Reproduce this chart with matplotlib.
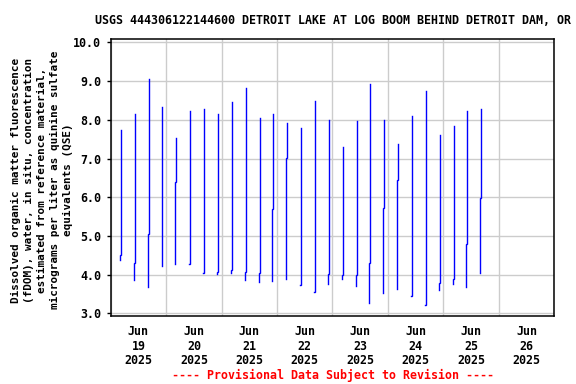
import matplotlib
matplotlib.use("Agg")
import matplotlib.pyplot as plt
import matplotlib.dates as mdates
import matplotlib.ticker as mticker
import numpy as np
import pandas as pd

# ---- data ----
profile_times = [
    "2025-06-19 04:00", "2025-06-19 10:00", "2025-06-19 16:00", "2025-06-19 22:00",
    "2025-06-20 04:00", "2025-06-20 10:00", "2025-06-20 16:00", "2025-06-20 22:00",
    "2025-06-21 04:00", "2025-06-21 10:00", "2025-06-21 16:00", "2025-06-21 22:00",
    "2025-06-22 04:00", "2025-06-22 10:00", "2025-06-22 16:00", "2025-06-22 22:00",
    "2025-06-23 04:00", "2025-06-23 10:00", "2025-06-23 16:00", "2025-06-23 22:00",
    "2025-06-24 04:00", "2025-06-24 10:00", "2025-06-24 16:00", "2025-06-24 22:00",
    "2025-06-25 04:00", "2025-06-25 10:00", "2025-06-25 16:00",
]
bottom_vals = [4.38, 3.87, 3.68, 4.23, 4.28, 4.28, 4.05, 4.01, 4.04, 3.87, 3.81,
               3.84, 3.89, 3.74, 3.56, 3.76, 3.89, 3.71, 3.27, 3.53, 3.63,
               3.45, 3.22, 3.61, 3.76, 3.68, 4.05]
jog_vals = [4.50, 4.30, 5.05, 6.18, 6.40, 4.28, 4.05, 4.06, 4.12, 4.06, 4.03,
            5.69, 7.02, 3.74, 3.56, 4.01, 3.98, 3.99, 4.30, 5.73, 6.45,
            3.45, 3.22, 3.79, 3.89, 4.80, 5.98]
top_vals = [7.73, 8.15, 9.05, 8.33, 7.53, 8.22, 8.28, 8.15, 8.46, 8.82, 8.04,
            8.15, 7.91, 7.79, 8.48, 7.99, 7.29, 7.97, 8.92, 7.99, 7.37,
            8.10, 8.74, 7.60, 7.84, 8.23, 8.28]
jog_minutes = 25  # time between lower and upper part of each profile

x_start = "2025-06-19 00:00"
x_end = "2025-06-27 00:00"
y_ticks = [3.0, 4.0, 5.0, 6.0, 7.0, 8.0, 9.0, 10.0]

title = "USGS 444306122144600 DETROIT LAKE AT LOG BOOM BEHIND DETROIT DAM, OR"
ylabel = ("Dissolved organic matter fluorescence\n"
          "(fDOM), water, in situ, concentration\n"
          "estimated from reference material,\n"
          "micrograms per liter as quinine sulfate\n"
          "equivalents (QSE)")
footer = "---- Provisional Data Subject to Revision ----"

# ---- plot ----
FONT = "DejaVu Sans Mono"
plt.rcParams["font.family"] = FONT
plt.rcParams["font.weight"] = "bold"

fig = plt.figure(figsize=(5.76, 3.84), dpi=100)
ax = fig.add_axes([0.1922, 0.1779, 0.9623 - 0.1922, 0.8977 - 0.1779])

blue = "#0000ff"
dt = pd.Timedelta(minutes=jog_minutes)
for t, b, j, tp in zip(profile_times, bottom_vals, jog_vals, top_vals):
    t0 = pd.Timestamp(t)
    xs = [t0, t0, t0 + dt, t0 + dt]
    ys = [b, j, j, tp]
    ax.plot(xs, ys, color=blue, lw=1.0, solid_joinstyle="miter")

ax.set_xlim(pd.Timestamp(x_start), pd.Timestamp(x_end))
ax.set_ylim(2.94, 10.08)

# x axis: gridlines at midnight, labels at noon
noon_ticks = pd.date_range(pd.Timestamp(x_start) + pd.Timedelta(hours=12),
                           pd.Timestamp(x_end), freq="D")
ax.set_xticks(noon_ticks)
ax.set_xticklabels([d.strftime("%b\n%d\n%Y") for d in noon_ticks],
                   fontsize=8.4, fontweight="bold", linespacing=1.15)
ax.xaxis.set_minor_locator(mdates.DayLocator())
ax.tick_params(axis="x", which="major", length=0, pad=7)
ax.tick_params(axis="x", which="minor", length=0)
ax.grid(True, which="minor", axis="x", color="#cccccc", lw=1.0)
ax.grid(False, which="major", axis="x")

# y axis
ax.set_yticks(y_ticks)
ax.yaxis.set_major_formatter(mticker.FormatStrFormatter("%.1f"))
ax.tick_params(axis="y", which="major", length=3, width=1, pad=4,
               labelsize=8.4)
for lab in ax.get_yticklabels():
    lab.set_fontweight("bold")
ax.grid(True, which="major", axis="y", color="#cccccc", lw=1.0)
ax.set_axisbelow(True)

for sp in ax.spines.values():
    sp.set_linewidth(1.1)
    sp.set_color("black")

fig.text(0.5773, 1 - 20 / 384, title, ha="center", va="center",
         fontsize=8.4, fontweight="bold")
fig.text(42 / 576, 1 - 180 / 384, ylabel, ha="center", va="center",
         rotation=90, fontsize=7.9, fontweight="bold", multialignment="center",
         linespacing=1.4)
fig.text(0.5773, 1 - 375 / 384, footer, ha="center", va="center",
         fontsize=8.4, fontweight="bold", color="#ff0000")

fig.savefig("out.png", dpi=100)
